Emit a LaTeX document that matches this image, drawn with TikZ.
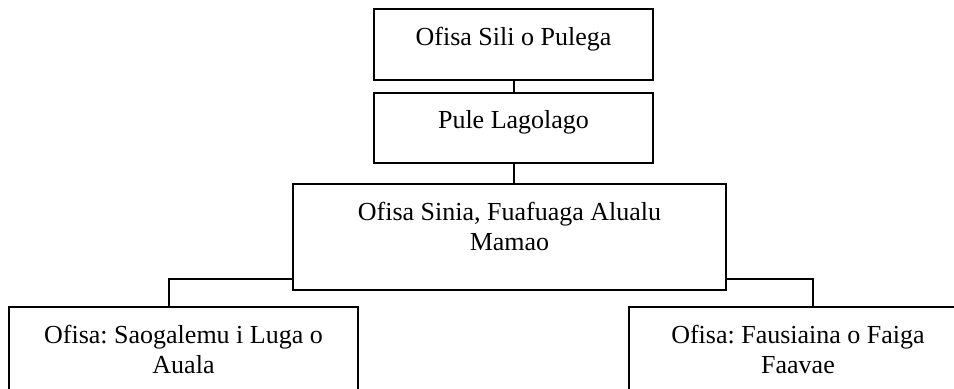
\documentclass[tikz,border=0pt]{standalone}
\usepackage{fontspec}
\setmainfont{Liberation Serif}
\usetikzlibrary{positioning}
\frenchspacing

\begin{document}
\begin{tikzpicture}[
  x=0.5pt, y=-0.5pt,
  office/.style={
    rectangle, draw=black, line width=1pt, fill=white,
    anchor=north west, inner sep=0pt
  },
  officetext/.style={
    anchor=north, align=center, inner sep=0pt,
    font=\fontsize{13}{15.2}\selectfont, yshift=-9.2pt
  },
  link/.style={draw=black, line width=1pt}
]
\clip (0,0) rectangle (954,389);

\node[office, minimum width=139.5pt, minimum height=35.5pt] (sili) at (373,8) {};
\node[officetext] (sili-txt) at (sili.north) {Ofisa Sili o Pulega};

\node[office, minimum width=139.5pt, minimum height=35pt] (pule) at (373,92) {};
\node[officetext] (pule-txt) at (pule.north) {Pule Lagolago};

\node[office, minimum width=216.5pt, minimum height=53pt] (sinia) at (292,183) {};
\node[officetext] (sinia-txt) at (sinia.north) {Ofisa Sinia, Fuafuaga Alualu\\Mamao};

\node[office, minimum width=174.5pt, minimum height=50pt] (saogalemu) at (8,306) {};
\node[officetext] (saogalemu-txt) at (saogalemu.north) {Ofisa: Saogalemu i Luga o\\Auala};

\node[office, minimum width=169pt, minimum height=50pt] (fausiaina) at (628,306) {};
\node[officetext] (fausiaina-txt) at (fausiaina.north) {Ofisa: Fausiaina o Faiga\\Faavae};

% connectors
\draw[link] (sili.south) -- (pule.north);
\draw[link] (pule.south) -- (pule.south |- sinia.north);
\draw[link] ([yshift=6pt]sinia.south west) -| ([xshift=-7.25pt]saogalemu.north);
\draw[link] ([yshift=6pt]sinia.south east) -| ([xshift=7.5pt]fausiaina.north);

\end{tikzpicture}
\end{document}
